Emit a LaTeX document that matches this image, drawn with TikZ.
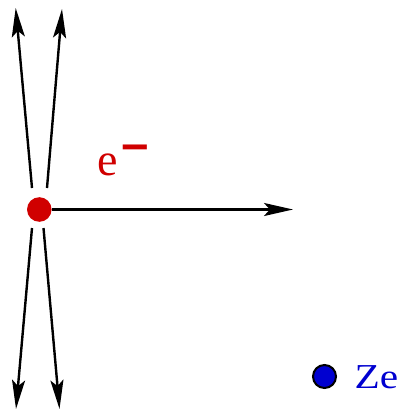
\documentclass[tikz,border=0pt]{standalone}
\usepackage{fontspec}
\setmainfont{Liberation Serif}
\usetikzlibrary{arrows.meta}
\definecolor{myred}{RGB}{208,0,0}
\definecolor{myblue}{RGB}{0,0,208}
\tikzset{
  ray/.style={line width=2.4pt,-{Stealth[length=29pt,width=13pt,inset=6pt]}},
}
\begin{document}
\begin{tikzpicture}[x=1pt,y=-1pt]
\useasboundingbox (0,0) rectangle (405,410);

% electron and its momentum
\node[circle,fill=myred,minimum size=24.6pt,inner sep=0pt] (e) at (39.3,209.5) {};
\coordinate (p) at (293,209.5);
\draw[ray] (e) -- (p);
\node[myred,anchor=base west,inner sep=0pt] (elab) at (97.5,175)
  {\fontsize{46}{46}\selectfont e\kern2pt\raisebox{5pt}{\scalebox{1.08}[1.45]{\fontsize{48}{48}\selectfont\bfseries −}}};

% outgoing rays, up and down
\coordinate (tl0) at (32,188);   \coordinate (tl1) at (15.7,8);
\coordinate (tr0) at (47,188);   \coordinate (tr1) at (62,9);
\coordinate (bl0) at (32,228);   \coordinate (bl1) at (16,409);
\coordinate (br0) at (43.5,228); \coordinate (br1) at (59.5,409);
\foreach \n in {tl,tr,bl,br}{
  \draw[ray] (\n0) -- (\n1);
}

% nucleus
\node[circle,fill=myblue,draw=black,line width=2pt,minimum size=23pt,inner sep=0pt] (z) at (324.5,376.5) {};
\node[myblue,anchor=base west,inner sep=0pt] (zlab) at (354.5,388.5)
  {\scalebox{1.18}[1]{\fontsize{35}{35}\selectfont Ze}};

\end{tikzpicture}
\end{document}
